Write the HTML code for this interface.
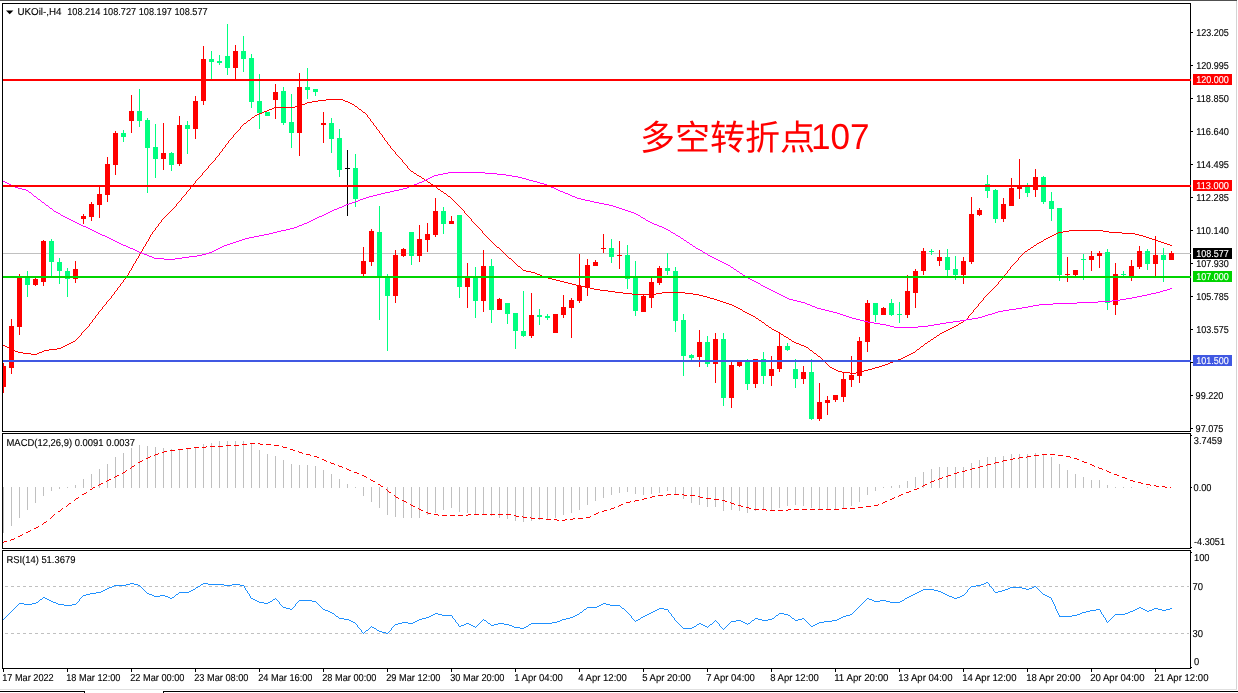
<!DOCTYPE html><html><head><meta charset="utf-8"><title>UKOil H4</title><style>html,body{margin:0;padding:0;background:#fff;overflow:hidden}body{width:1238px;height:693px;font-family:"Liberation Sans",sans-serif}</style></head><body><svg width="1238" height="693" viewBox="0 0 1238 693" style="display:block;will-change:transform">
<rect width="1238" height="693" fill="#fff"/>
<g shape-rendering="crispEdges">
<rect x="0" y="0" width="1237" height="1" fill="#505050"/>
<rect x="1236" y="1" width="1" height="689" fill="#d4d4d4"/>
<rect x="0" y="689" width="1237" height="1" fill="#e0e0e0"/>
<rect x="0" y="691" width="85" height="1" fill="#000"/><rect x="84" y="691" width="1" height="2" fill="#000"/>
<rect x="163" y="691" width="1075" height="1" fill="#000"/><rect x="163" y="691" width="1" height="2" fill="#000"/>
<rect x="3" y="253" width="1187" height="1" fill="#c0c0c0"/>
<line x1="5" y1="586.5" x2="1189" y2="586.5" stroke="#c0c0c0" stroke-width="1" stroke-dasharray="3,3"/>
<line x1="5" y1="633.5" x2="1189" y2="633.5" stroke="#c0c0c0" stroke-width="1" stroke-dasharray="3,3"/>
<rect x="3" y="487" width="1" height="46" fill="#c0c0c0"/>
<rect x="11" y="487" width="1" height="39" fill="#c0c0c0"/>
<rect x="19" y="487" width="1" height="31" fill="#c0c0c0"/>
<rect x="27" y="487" width="1" height="23" fill="#c0c0c0"/>
<rect x="35" y="487" width="1" height="16" fill="#c0c0c0"/>
<rect x="43" y="487" width="1" height="9" fill="#c0c0c0"/>
<rect x="51" y="487" width="1" height="4" fill="#c0c0c0"/>
<rect x="59" y="487" width="1" height="2" fill="#c0c0c0"/>
<rect x="67" y="487" width="1" height="1" fill="#c0c0c0"/>
<rect x="75" y="485" width="1" height="3" fill="#c0c0c0"/>
<rect x="83" y="479" width="1" height="9" fill="#c0c0c0"/>
<rect x="91" y="474" width="1" height="14" fill="#c0c0c0"/>
<rect x="99" y="469" width="1" height="19" fill="#c0c0c0"/>
<rect x="107" y="464" width="1" height="24" fill="#c0c0c0"/>
<rect x="115" y="457" width="1" height="31" fill="#c0c0c0"/>
<rect x="123" y="453" width="1" height="35" fill="#c0c0c0"/>
<rect x="131" y="448" width="1" height="40" fill="#c0c0c0"/>
<rect x="139" y="445" width="1" height="43" fill="#c0c0c0"/>
<rect x="147" y="446" width="1" height="42" fill="#c0c0c0"/>
<rect x="155" y="447" width="1" height="41" fill="#c0c0c0"/>
<rect x="163" y="448" width="1" height="40" fill="#c0c0c0"/>
<rect x="171" y="449" width="1" height="39" fill="#c0c0c0"/>
<rect x="179" y="449" width="1" height="39" fill="#c0c0c0"/>
<rect x="187" y="449" width="1" height="39" fill="#c0c0c0"/>
<rect x="195" y="447" width="1" height="41" fill="#c0c0c0"/>
<rect x="203" y="444" width="1" height="44" fill="#c0c0c0"/>
<rect x="211" y="443" width="1" height="45" fill="#c0c0c0"/>
<rect x="219" y="441" width="1" height="47" fill="#c0c0c0"/>
<rect x="227" y="441" width="1" height="47" fill="#c0c0c0"/>
<rect x="235" y="441" width="1" height="47" fill="#c0c0c0"/>
<rect x="243" y="441" width="1" height="47" fill="#c0c0c0"/>
<rect x="251" y="444" width="1" height="44" fill="#c0c0c0"/>
<rect x="259" y="450" width="1" height="38" fill="#c0c0c0"/>
<rect x="267" y="454" width="1" height="34" fill="#c0c0c0"/>
<rect x="275" y="456" width="1" height="32" fill="#c0c0c0"/>
<rect x="283" y="460" width="1" height="28" fill="#c0c0c0"/>
<rect x="291" y="464" width="1" height="24" fill="#c0c0c0"/>
<rect x="299" y="465" width="1" height="23" fill="#c0c0c0"/>
<rect x="307" y="465" width="1" height="23" fill="#c0c0c0"/>
<rect x="315" y="466" width="1" height="22" fill="#c0c0c0"/>
<rect x="323" y="470" width="1" height="18" fill="#c0c0c0"/>
<rect x="331" y="474" width="1" height="14" fill="#c0c0c0"/>
<rect x="339" y="479" width="1" height="9" fill="#c0c0c0"/>
<rect x="347" y="484" width="1" height="4" fill="#c0c0c0"/>
<rect x="355" y="487" width="1" height="1" fill="#c0c0c0"/>
<rect x="363" y="487" width="1" height="9" fill="#c0c0c0"/>
<rect x="371" y="487" width="1" height="15" fill="#c0c0c0"/>
<rect x="379" y="487" width="1" height="21" fill="#c0c0c0"/>
<rect x="387" y="487" width="1" height="28" fill="#c0c0c0"/>
<rect x="395" y="487" width="1" height="30" fill="#c0c0c0"/>
<rect x="403" y="487" width="1" height="31" fill="#c0c0c0"/>
<rect x="411" y="487" width="1" height="31" fill="#c0c0c0"/>
<rect x="419" y="487" width="1" height="31" fill="#c0c0c0"/>
<rect x="427" y="487" width="1" height="28" fill="#c0c0c0"/>
<rect x="435" y="487" width="1" height="26" fill="#c0c0c0"/>
<rect x="443" y="487" width="1" height="23" fill="#c0c0c0"/>
<rect x="451" y="487" width="1" height="21" fill="#c0c0c0"/>
<rect x="459" y="487" width="1" height="25" fill="#c0c0c0"/>
<rect x="467" y="487" width="1" height="26" fill="#c0c0c0"/>
<rect x="475" y="487" width="1" height="27" fill="#c0c0c0"/>
<rect x="483" y="487" width="1" height="28" fill="#c0c0c0"/>
<rect x="491" y="487" width="1" height="29" fill="#c0c0c0"/>
<rect x="499" y="487" width="1" height="31" fill="#c0c0c0"/>
<rect x="507" y="487" width="1" height="32" fill="#c0c0c0"/>
<rect x="515" y="487" width="1" height="34" fill="#c0c0c0"/>
<rect x="523" y="487" width="1" height="35" fill="#c0c0c0"/>
<rect x="531" y="487" width="1" height="34" fill="#c0c0c0"/>
<rect x="539" y="487" width="1" height="33" fill="#c0c0c0"/>
<rect x="547" y="487" width="1" height="32" fill="#c0c0c0"/>
<rect x="555" y="487" width="1" height="31" fill="#c0c0c0"/>
<rect x="563" y="487" width="1" height="28" fill="#c0c0c0"/>
<rect x="571" y="487" width="1" height="26" fill="#c0c0c0"/>
<rect x="579" y="487" width="1" height="23" fill="#c0c0c0"/>
<rect x="587" y="487" width="1" height="18" fill="#c0c0c0"/>
<rect x="595" y="487" width="1" height="14" fill="#c0c0c0"/>
<rect x="603" y="487" width="1" height="11" fill="#c0c0c0"/>
<rect x="611" y="487" width="1" height="8" fill="#c0c0c0"/>
<rect x="619" y="487" width="1" height="6" fill="#c0c0c0"/>
<rect x="627" y="487" width="1" height="5" fill="#c0c0c0"/>
<rect x="635" y="487" width="1" height="7" fill="#c0c0c0"/>
<rect x="643" y="487" width="1" height="8" fill="#c0c0c0"/>
<rect x="651" y="487" width="1" height="7" fill="#c0c0c0"/>
<rect x="659" y="487" width="1" height="6" fill="#c0c0c0"/>
<rect x="667" y="487" width="1" height="4" fill="#c0c0c0"/>
<rect x="675" y="487" width="1" height="8" fill="#c0c0c0"/>
<rect x="683" y="487" width="1" height="12" fill="#c0c0c0"/>
<rect x="691" y="487" width="1" height="16" fill="#c0c0c0"/>
<rect x="699" y="487" width="1" height="18" fill="#c0c0c0"/>
<rect x="707" y="487" width="1" height="20" fill="#c0c0c0"/>
<rect x="715" y="487" width="1" height="20" fill="#c0c0c0"/>
<rect x="723" y="487" width="1" height="24" fill="#c0c0c0"/>
<rect x="731" y="487" width="1" height="23" fill="#c0c0c0"/>
<rect x="739" y="487" width="1" height="24" fill="#c0c0c0"/>
<rect x="747" y="487" width="1" height="26" fill="#c0c0c0"/>
<rect x="755" y="487" width="1" height="24" fill="#c0c0c0"/>
<rect x="763" y="487" width="1" height="23" fill="#c0c0c0"/>
<rect x="771" y="487" width="1" height="23" fill="#c0c0c0"/>
<rect x="779" y="487" width="1" height="21" fill="#c0c0c0"/>
<rect x="787" y="487" width="1" height="19" fill="#c0c0c0"/>
<rect x="795" y="487" width="1" height="18" fill="#c0c0c0"/>
<rect x="803" y="487" width="1" height="19" fill="#c0c0c0"/>
<rect x="811" y="487" width="1" height="21" fill="#c0c0c0"/>
<rect x="819" y="487" width="1" height="22" fill="#c0c0c0"/>
<rect x="827" y="487" width="1" height="22" fill="#c0c0c0"/>
<rect x="835" y="487" width="1" height="22" fill="#c0c0c0"/>
<rect x="843" y="487" width="1" height="21" fill="#c0c0c0"/>
<rect x="851" y="487" width="1" height="19" fill="#c0c0c0"/>
<rect x="859" y="487" width="1" height="15" fill="#c0c0c0"/>
<rect x="867" y="487" width="1" height="8" fill="#c0c0c0"/>
<rect x="875" y="487" width="1" height="4" fill="#c0c0c0"/>
<rect x="883" y="487" width="1" height="1" fill="#c0c0c0"/>
<rect x="891" y="486" width="1" height="2" fill="#c0c0c0"/>
<rect x="899" y="485" width="1" height="3" fill="#c0c0c0"/>
<rect x="907" y="481" width="1" height="7" fill="#c0c0c0"/>
<rect x="915" y="477" width="1" height="11" fill="#c0c0c0"/>
<rect x="923" y="472" width="1" height="16" fill="#c0c0c0"/>
<rect x="931" y="469" width="1" height="19" fill="#c0c0c0"/>
<rect x="939" y="467" width="1" height="21" fill="#c0c0c0"/>
<rect x="947" y="467" width="1" height="21" fill="#c0c0c0"/>
<rect x="955" y="467" width="1" height="21" fill="#c0c0c0"/>
<rect x="963" y="467" width="1" height="21" fill="#c0c0c0"/>
<rect x="971" y="463" width="1" height="25" fill="#c0c0c0"/>
<rect x="979" y="460" width="1" height="28" fill="#c0c0c0"/>
<rect x="987" y="457" width="1" height="31" fill="#c0c0c0"/>
<rect x="995" y="457" width="1" height="31" fill="#c0c0c0"/>
<rect x="1003" y="456" width="1" height="32" fill="#c0c0c0"/>
<rect x="1011" y="454" width="1" height="34" fill="#c0c0c0"/>
<rect x="1019" y="454" width="1" height="34" fill="#c0c0c0"/>
<rect x="1027" y="454" width="1" height="34" fill="#c0c0c0"/>
<rect x="1035" y="453" width="1" height="35" fill="#c0c0c0"/>
<rect x="1043" y="454" width="1" height="34" fill="#c0c0c0"/>
<rect x="1051" y="457" width="1" height="31" fill="#c0c0c0"/>
<rect x="1059" y="464" width="1" height="24" fill="#c0c0c0"/>
<rect x="1067" y="470" width="1" height="18" fill="#c0c0c0"/>
<rect x="1075" y="474" width="1" height="14" fill="#c0c0c0"/>
<rect x="1083" y="477" width="1" height="11" fill="#c0c0c0"/>
<rect x="1091" y="480" width="1" height="8" fill="#c0c0c0"/>
<rect x="1099" y="480" width="1" height="8" fill="#c0c0c0"/>
<rect x="1107" y="485" width="1" height="3" fill="#c0c0c0"/>
<rect x="1115" y="487" width="1" height="1" fill="#c0c0c0"/>
<rect x="1123" y="487" width="1" height="1" fill="#c0c0c0"/>
<rect x="1131" y="487" width="1" height="1" fill="#c0c0c0"/>
<rect x="1147" y="487" width="1" height="1" fill="#c0c0c0"/>
</g>
<g shape-rendering="crispEdges">
<rect x="3" y="363" width="1" height="30" fill="#ff0000"/>
<rect x="3" y="366" width="3" height="21" fill="#ff0000"/>
<rect x="11" y="319" width="1" height="55" fill="#ff0000"/>
<rect x="9" y="326" width="5" height="42" fill="#ff0000"/>
<rect x="19" y="274" width="1" height="61" fill="#ff0000"/>
<rect x="17" y="277" width="5" height="50" fill="#ff0000"/>
<rect x="27" y="271" width="1" height="26" fill="#00ff7f"/>
<rect x="25" y="278" width="5" height="7" fill="#00ff7f"/>
<rect x="35" y="278" width="1" height="8" fill="#ff0000"/>
<rect x="33" y="279" width="5" height="6" fill="#ff0000"/>
<rect x="43" y="240" width="1" height="46" fill="#ff0000"/>
<rect x="41" y="241" width="5" height="41" fill="#ff0000"/>
<rect x="51" y="239" width="1" height="37" fill="#00ff7f"/>
<rect x="49" y="241" width="5" height="21" fill="#00ff7f"/>
<rect x="59" y="258" width="1" height="26" fill="#00ff7f"/>
<rect x="57" y="262" width="5" height="9" fill="#00ff7f"/>
<rect x="67" y="268" width="1" height="29" fill="#00ff7f"/>
<rect x="65" y="271" width="5" height="8" fill="#00ff7f"/>
<rect x="75" y="261" width="1" height="22" fill="#ff0000"/>
<rect x="73" y="269" width="5" height="10" fill="#ff0000"/>
<rect x="83" y="214" width="1" height="10" fill="#ff0000"/>
<rect x="81" y="216" width="5" height="3" fill="#ff0000"/>
<rect x="91" y="202" width="1" height="19" fill="#ff0000"/>
<rect x="89" y="204" width="5" height="13" fill="#ff0000"/>
<rect x="99" y="187" width="1" height="31" fill="#ff0000"/>
<rect x="97" y="194" width="5" height="11" fill="#ff0000"/>
<rect x="107" y="157" width="1" height="45" fill="#ff0000"/>
<rect x="105" y="164" width="5" height="31" fill="#ff0000"/>
<rect x="115" y="131" width="1" height="44" fill="#ff0000"/>
<rect x="113" y="133" width="5" height="32" fill="#ff0000"/>
<rect x="123" y="130" width="1" height="12" fill="#00ff7f"/>
<rect x="121" y="133" width="5" height="4" fill="#00ff7f"/>
<rect x="131" y="95" width="1" height="38" fill="#ff0000"/>
<rect x="129" y="111" width="5" height="10" fill="#ff0000"/>
<rect x="139" y="89" width="1" height="38" fill="#00ff7f"/>
<rect x="137" y="111" width="5" height="10" fill="#00ff7f"/>
<rect x="147" y="118" width="1" height="75" fill="#00ff7f"/>
<rect x="145" y="120" width="5" height="28" fill="#00ff7f"/>
<rect x="155" y="124" width="1" height="54" fill="#00ff7f"/>
<rect x="153" y="147" width="5" height="12" fill="#00ff7f"/>
<rect x="163" y="123" width="1" height="47" fill="#ff0000"/>
<rect x="161" y="153" width="5" height="6" fill="#ff0000"/>
<rect x="171" y="152" width="1" height="19" fill="#00ff7f"/>
<rect x="169" y="153" width="5" height="12" fill="#00ff7f"/>
<rect x="179" y="116" width="1" height="50" fill="#ff0000"/>
<rect x="177" y="125" width="5" height="39" fill="#ff0000"/>
<rect x="187" y="121" width="1" height="33" fill="#00ff7f"/>
<rect x="185" y="125" width="5" height="4" fill="#00ff7f"/>
<rect x="195" y="96" width="1" height="43" fill="#ff0000"/>
<rect x="193" y="101" width="5" height="28" fill="#ff0000"/>
<rect x="203" y="46" width="1" height="59" fill="#ff0000"/>
<rect x="201" y="59" width="5" height="42" fill="#ff0000"/>
<rect x="211" y="51" width="1" height="28" fill="#00ff7f"/>
<rect x="209" y="59" width="5" height="3" fill="#00ff7f"/>
<rect x="219" y="55" width="1" height="10" fill="#00ff7f"/>
<rect x="217" y="61" width="5" height="2" fill="#00ff7f"/>
<rect x="227" y="24" width="1" height="51" fill="#00ff7f"/>
<rect x="225" y="56" width="5" height="12" fill="#00ff7f"/>
<rect x="235" y="45" width="1" height="34" fill="#ff0000"/>
<rect x="233" y="51" width="5" height="17" fill="#ff0000"/>
<rect x="243" y="36" width="1" height="36" fill="#00ff7f"/>
<rect x="241" y="51" width="5" height="8" fill="#00ff7f"/>
<rect x="251" y="54" width="1" height="54" fill="#00ff7f"/>
<rect x="249" y="58" width="5" height="44" fill="#00ff7f"/>
<rect x="259" y="74" width="1" height="55" fill="#00ff7f"/>
<rect x="257" y="101" width="5" height="12" fill="#00ff7f"/>
<rect x="267" y="112" width="1" height="4" fill="#00ff7f"/>
<rect x="265" y="112" width="5" height="4" fill="#00ff7f"/>
<rect x="275" y="84" width="1" height="35" fill="#ff0000"/>
<rect x="273" y="92" width="5" height="8" fill="#ff0000"/>
<rect x="283" y="87" width="1" height="38" fill="#00ff7f"/>
<rect x="281" y="91" width="5" height="32" fill="#00ff7f"/>
<rect x="291" y="94" width="1" height="54" fill="#00ff7f"/>
<rect x="289" y="122" width="5" height="11" fill="#00ff7f"/>
<rect x="299" y="73" width="1" height="83" fill="#ff0000"/>
<rect x="297" y="87" width="5" height="46" fill="#ff0000"/>
<rect x="307" y="68" width="1" height="31" fill="#00ff7f"/>
<rect x="305" y="87" width="5" height="3" fill="#00ff7f"/>
<rect x="315" y="89" width="1" height="7" fill="#00ff7f"/>
<rect x="313" y="89" width="5" height="3" fill="#00ff7f"/>
<rect x="323" y="112" width="1" height="31" fill="#ff0000"/>
<rect x="321" y="123" width="5" height="2" fill="#ff0000"/>
<rect x="331" y="118" width="1" height="35" fill="#00ff7f"/>
<rect x="329" y="123" width="5" height="16" fill="#00ff7f"/>
<rect x="339" y="129" width="1" height="48" fill="#00ff7f"/>
<rect x="337" y="138" width="5" height="32" fill="#00ff7f"/>
<rect x="347" y="150" width="1" height="66" fill="#000"/>
<rect x="345" y="168" width="5" height="1" fill="#000"/>
<rect x="355" y="154" width="1" height="53" fill="#00ff7f"/>
<rect x="353" y="168" width="5" height="31" fill="#00ff7f"/>
<rect x="363" y="247" width="1" height="29" fill="#ff0000"/>
<rect x="361" y="261" width="5" height="13" fill="#ff0000"/>
<rect x="371" y="229" width="1" height="37" fill="#ff0000"/>
<rect x="369" y="231" width="5" height="31" fill="#ff0000"/>
<rect x="379" y="206" width="1" height="114" fill="#00ff7f"/>
<rect x="377" y="232" width="5" height="45" fill="#00ff7f"/>
<rect x="387" y="274" width="1" height="77" fill="#00ff7f"/>
<rect x="385" y="277" width="5" height="19" fill="#00ff7f"/>
<rect x="395" y="250" width="1" height="53" fill="#ff0000"/>
<rect x="393" y="255" width="5" height="41" fill="#ff0000"/>
<rect x="403" y="248" width="1" height="9" fill="#ff0000"/>
<rect x="401" y="249" width="5" height="7" fill="#ff0000"/>
<rect x="411" y="232" width="1" height="33" fill="#00ff7f"/>
<rect x="409" y="232" width="5" height="24" fill="#00ff7f"/>
<rect x="419" y="225" width="1" height="37" fill="#ff0000"/>
<rect x="417" y="239" width="5" height="17" fill="#ff0000"/>
<rect x="427" y="223" width="1" height="29" fill="#ff0000"/>
<rect x="425" y="234" width="5" height="6" fill="#ff0000"/>
<rect x="435" y="198" width="1" height="39" fill="#ff0000"/>
<rect x="433" y="211" width="5" height="24" fill="#ff0000"/>
<rect x="443" y="207" width="1" height="27" fill="#00ff7f"/>
<rect x="441" y="211" width="5" height="13" fill="#00ff7f"/>
<rect x="451" y="216" width="1" height="8" fill="#ff0000"/>
<rect x="449" y="221" width="5" height="3" fill="#ff0000"/>
<rect x="459" y="215" width="1" height="83" fill="#00ff7f"/>
<rect x="457" y="215" width="5" height="72" fill="#00ff7f"/>
<rect x="467" y="263" width="1" height="45" fill="#ff0000"/>
<rect x="465" y="278" width="5" height="9" fill="#ff0000"/>
<rect x="475" y="267" width="1" height="51" fill="#00ff7f"/>
<rect x="473" y="278" width="5" height="23" fill="#00ff7f"/>
<rect x="483" y="250" width="1" height="62" fill="#ff0000"/>
<rect x="481" y="266" width="5" height="35" fill="#ff0000"/>
<rect x="491" y="259" width="1" height="64" fill="#00ff7f"/>
<rect x="489" y="266" width="5" height="44" fill="#00ff7f"/>
<rect x="499" y="298" width="1" height="12" fill="#ff0000"/>
<rect x="497" y="299" width="5" height="11" fill="#ff0000"/>
<rect x="507" y="303" width="1" height="21" fill="#00ff7f"/>
<rect x="505" y="303" width="5" height="11" fill="#00ff7f"/>
<rect x="515" y="313" width="1" height="36" fill="#00ff7f"/>
<rect x="513" y="313" width="5" height="18" fill="#00ff7f"/>
<rect x="523" y="291" width="1" height="46" fill="#00ff7f"/>
<rect x="521" y="331" width="5" height="5" fill="#00ff7f"/>
<rect x="531" y="293" width="1" height="45" fill="#ff0000"/>
<rect x="529" y="315" width="5" height="21" fill="#ff0000"/>
<rect x="539" y="309" width="1" height="16" fill="#00ff7f"/>
<rect x="537" y="315" width="5" height="2" fill="#00ff7f"/>
<rect x="547" y="314" width="1" height="6" fill="#00ff7f"/>
<rect x="545" y="316" width="5" height="2" fill="#00ff7f"/>
<rect x="555" y="314" width="1" height="19" fill="#ff0000"/>
<rect x="553" y="314" width="5" height="19" fill="#ff0000"/>
<rect x="563" y="295" width="1" height="23" fill="#ff0000"/>
<rect x="561" y="307" width="5" height="8" fill="#ff0000"/>
<rect x="571" y="298" width="1" height="40" fill="#ff0000"/>
<rect x="569" y="300" width="5" height="8" fill="#ff0000"/>
<rect x="579" y="254" width="1" height="49" fill="#ff0000"/>
<rect x="577" y="286" width="5" height="15" fill="#ff0000"/>
<rect x="587" y="259" width="1" height="37" fill="#ff0000"/>
<rect x="585" y="265" width="5" height="22" fill="#ff0000"/>
<rect x="595" y="260" width="1" height="6" fill="#ff0000"/>
<rect x="593" y="262" width="5" height="4" fill="#ff0000"/>
<rect x="603" y="234" width="1" height="19" fill="#ff0000"/>
<rect x="601" y="248" width="5" height="1" fill="#ff0000"/>
<rect x="611" y="239" width="1" height="24" fill="#00ff7f"/>
<rect x="609" y="248" width="5" height="9" fill="#00ff7f"/>
<rect x="619" y="241" width="1" height="28" fill="#ff0000"/>
<rect x="617" y="255" width="5" height="1" fill="#ff0000"/>
<rect x="627" y="245" width="1" height="44" fill="#00ff7f"/>
<rect x="625" y="255" width="5" height="24" fill="#00ff7f"/>
<rect x="635" y="261" width="1" height="55" fill="#00ff7f"/>
<rect x="633" y="277" width="5" height="34" fill="#00ff7f"/>
<rect x="643" y="295" width="1" height="17" fill="#ff0000"/>
<rect x="641" y="296" width="5" height="16" fill="#ff0000"/>
<rect x="651" y="278" width="1" height="30" fill="#ff0000"/>
<rect x="649" y="282" width="5" height="16" fill="#ff0000"/>
<rect x="659" y="266" width="1" height="19" fill="#ff0000"/>
<rect x="657" y="268" width="5" height="15" fill="#ff0000"/>
<rect x="667" y="253" width="1" height="22" fill="#00ff7f"/>
<rect x="665" y="268" width="5" height="3" fill="#00ff7f"/>
<rect x="675" y="267" width="1" height="65" fill="#00ff7f"/>
<rect x="673" y="271" width="5" height="50" fill="#00ff7f"/>
<rect x="683" y="314" width="1" height="62" fill="#00ff7f"/>
<rect x="681" y="320" width="5" height="36" fill="#00ff7f"/>
<rect x="691" y="354" width="1" height="6" fill="#00ff7f"/>
<rect x="689" y="355" width="5" height="3" fill="#00ff7f"/>
<rect x="699" y="330" width="1" height="37" fill="#ff0000"/>
<rect x="697" y="342" width="5" height="15" fill="#ff0000"/>
<rect x="707" y="336" width="1" height="31" fill="#00ff7f"/>
<rect x="705" y="342" width="5" height="22" fill="#00ff7f"/>
<rect x="715" y="333" width="1" height="50" fill="#ff0000"/>
<rect x="713" y="339" width="5" height="25" fill="#ff0000"/>
<rect x="723" y="333" width="1" height="73" fill="#00ff7f"/>
<rect x="721" y="339" width="5" height="59" fill="#00ff7f"/>
<rect x="731" y="362" width="1" height="46" fill="#ff0000"/>
<rect x="729" y="365" width="5" height="33" fill="#ff0000"/>
<rect x="739" y="361" width="1" height="6" fill="#ff0000"/>
<rect x="737" y="362" width="5" height="4" fill="#ff0000"/>
<rect x="747" y="359" width="1" height="31" fill="#00ff7f"/>
<rect x="745" y="361" width="5" height="23" fill="#00ff7f"/>
<rect x="755" y="359" width="1" height="29" fill="#ff0000"/>
<rect x="753" y="359" width="5" height="25" fill="#ff0000"/>
<rect x="763" y="352" width="1" height="32" fill="#00ff7f"/>
<rect x="761" y="359" width="5" height="17" fill="#00ff7f"/>
<rect x="771" y="356" width="1" height="30" fill="#ff0000"/>
<rect x="769" y="369" width="5" height="7" fill="#ff0000"/>
<rect x="779" y="333" width="1" height="39" fill="#ff0000"/>
<rect x="777" y="346" width="5" height="23" fill="#ff0000"/>
<rect x="787" y="343" width="1" height="8" fill="#00ff7f"/>
<rect x="785" y="346" width="5" height="4" fill="#00ff7f"/>
<rect x="795" y="359" width="1" height="29" fill="#00ff7f"/>
<rect x="793" y="369" width="5" height="10" fill="#00ff7f"/>
<rect x="803" y="366" width="1" height="18" fill="#ff0000"/>
<rect x="801" y="372" width="5" height="7" fill="#ff0000"/>
<rect x="811" y="359" width="1" height="61" fill="#00ff7f"/>
<rect x="809" y="372" width="5" height="47" fill="#00ff7f"/>
<rect x="819" y="383" width="1" height="38" fill="#ff0000"/>
<rect x="817" y="402" width="5" height="17" fill="#ff0000"/>
<rect x="827" y="396" width="1" height="19" fill="#ff0000"/>
<rect x="825" y="400" width="5" height="3" fill="#ff0000"/>
<rect x="835" y="395" width="1" height="7" fill="#ff0000"/>
<rect x="833" y="395" width="5" height="5" fill="#ff0000"/>
<rect x="843" y="373" width="1" height="29" fill="#ff0000"/>
<rect x="841" y="379" width="5" height="18" fill="#ff0000"/>
<rect x="851" y="356" width="1" height="31" fill="#ff0000"/>
<rect x="849" y="375" width="5" height="5" fill="#ff0000"/>
<rect x="859" y="337" width="1" height="46" fill="#ff0000"/>
<rect x="857" y="341" width="5" height="35" fill="#ff0000"/>
<rect x="867" y="300" width="1" height="52" fill="#ff0000"/>
<rect x="865" y="303" width="5" height="39" fill="#ff0000"/>
<rect x="875" y="303" width="1" height="19" fill="#00ff7f"/>
<rect x="873" y="303" width="5" height="12" fill="#00ff7f"/>
<rect x="883" y="307" width="1" height="8" fill="#ff0000"/>
<rect x="881" y="308" width="5" height="7" fill="#ff0000"/>
<rect x="891" y="299" width="1" height="17" fill="#00ff7f"/>
<rect x="889" y="303" width="5" height="12" fill="#00ff7f"/>
<rect x="899" y="302" width="1" height="21" fill="#00ff7f"/>
<rect x="897" y="314" width="5" height="1" fill="#00ff7f"/>
<rect x="907" y="275" width="1" height="43" fill="#ff0000"/>
<rect x="905" y="291" width="5" height="24" fill="#ff0000"/>
<rect x="915" y="269" width="1" height="39" fill="#ff0000"/>
<rect x="913" y="271" width="5" height="22" fill="#ff0000"/>
<rect x="923" y="248" width="1" height="27" fill="#ff0000"/>
<rect x="921" y="251" width="5" height="20" fill="#ff0000"/>
<rect x="931" y="249" width="1" height="6" fill="#00ff7f"/>
<rect x="929" y="251" width="5" height="1" fill="#00ff7f"/>
<rect x="939" y="250" width="1" height="16" fill="#ff0000"/>
<rect x="937" y="257" width="5" height="4" fill="#ff0000"/>
<rect x="947" y="249" width="1" height="27" fill="#00ff7f"/>
<rect x="945" y="257" width="5" height="13" fill="#00ff7f"/>
<rect x="955" y="256" width="1" height="24" fill="#00ff7f"/>
<rect x="953" y="269" width="5" height="6" fill="#00ff7f"/>
<rect x="963" y="257" width="1" height="27" fill="#ff0000"/>
<rect x="961" y="261" width="5" height="14" fill="#ff0000"/>
<rect x="971" y="197" width="1" height="67" fill="#ff0000"/>
<rect x="969" y="214" width="5" height="48" fill="#ff0000"/>
<rect x="979" y="208" width="1" height="8" fill="#ff0000"/>
<rect x="977" y="210" width="5" height="5" fill="#ff0000"/>
<rect x="987" y="175" width="1" height="23" fill="#00ff7f"/>
<rect x="985" y="184" width="5" height="7" fill="#00ff7f"/>
<rect x="995" y="189" width="1" height="34" fill="#00ff7f"/>
<rect x="993" y="190" width="5" height="29" fill="#00ff7f"/>
<rect x="1003" y="198" width="1" height="24" fill="#ff0000"/>
<rect x="1001" y="204" width="5" height="15" fill="#ff0000"/>
<rect x="1011" y="178" width="1" height="28" fill="#ff0000"/>
<rect x="1009" y="188" width="5" height="18" fill="#ff0000"/>
<rect x="1019" y="159" width="1" height="40" fill="#ff0000"/>
<rect x="1017" y="185" width="5" height="4" fill="#ff0000"/>
<rect x="1027" y="183" width="1" height="14" fill="#00ff7f"/>
<rect x="1025" y="187" width="5" height="6" fill="#00ff7f"/>
<rect x="1035" y="169" width="1" height="28" fill="#ff0000"/>
<rect x="1033" y="177" width="5" height="13" fill="#ff0000"/>
<rect x="1043" y="176" width="1" height="28" fill="#00ff7f"/>
<rect x="1041" y="177" width="5" height="25" fill="#00ff7f"/>
<rect x="1051" y="192" width="1" height="29" fill="#00ff7f"/>
<rect x="1049" y="201" width="5" height="8" fill="#00ff7f"/>
<rect x="1059" y="208" width="1" height="73" fill="#00ff7f"/>
<rect x="1057" y="208" width="5" height="67" fill="#00ff7f"/>
<rect x="1067" y="257" width="1" height="25" fill="#ff0000"/>
<rect x="1065" y="274" width="5" height="1" fill="#ff0000"/>
<rect x="1075" y="270" width="1" height="7" fill="#ff0000"/>
<rect x="1073" y="270" width="5" height="5" fill="#ff0000"/>
<rect x="1083" y="254" width="1" height="26" fill="#00ff7f"/>
<rect x="1081" y="259" width="5" height="1" fill="#00ff7f"/>
<rect x="1091" y="251" width="1" height="20" fill="#ff0000"/>
<rect x="1089" y="256" width="5" height="4" fill="#ff0000"/>
<rect x="1099" y="251" width="1" height="17" fill="#ff0000"/>
<rect x="1097" y="253" width="5" height="3" fill="#ff0000"/>
<rect x="1107" y="249" width="1" height="61" fill="#00ff7f"/>
<rect x="1105" y="252" width="5" height="51" fill="#00ff7f"/>
<rect x="1115" y="263" width="1" height="52" fill="#ff0000"/>
<rect x="1113" y="274" width="5" height="31" fill="#ff0000"/>
<rect x="1123" y="271" width="1" height="5" fill="#00ff7f"/>
<rect x="1121" y="274" width="5" height="1" fill="#00ff7f"/>
<rect x="1131" y="260" width="1" height="21" fill="#ff0000"/>
<rect x="1129" y="266" width="5" height="10" fill="#ff0000"/>
<rect x="1139" y="246" width="1" height="23" fill="#ff0000"/>
<rect x="1137" y="251" width="5" height="16" fill="#ff0000"/>
<rect x="1147" y="249" width="1" height="21" fill="#00ff7f"/>
<rect x="1145" y="251" width="5" height="13" fill="#00ff7f"/>
<rect x="1155" y="236" width="1" height="40" fill="#ff0000"/>
<rect x="1153" y="255" width="5" height="9" fill="#ff0000"/>
<rect x="1163" y="248" width="1" height="34" fill="#00ff7f"/>
<rect x="1161" y="255" width="5" height="5" fill="#00ff7f"/>
<rect x="1171" y="251" width="1" height="9" fill="#ff0000"/>
<rect x="1169" y="253" width="5" height="7" fill="#ff0000"/>
</g>
<path shape-rendering="crispEdges" fill="none" stroke="#ff0000" stroke-width="1" d="M326 99.5h17M318 100.5h8M343 100.5h2M312 101.5h6M345 101.5h3M307 102.5h5M348 102.5h2M305 103.5h2M350 103.5h2M302 104.5h3M352 104.5h2M300 105.5h2M354 105.5h1M295 106.5h5M355 106.5h2M274 107.5h21M357 107.5h1M272 108.5h2M358 108.5h1M269 109.5h3M359 109.5h2M267 110.5h2M361 110.5h1M264 111.5h3M362 111.5h1M262 112.5h2M363 112.5h2M259 113.5h3M365 113.5h1M257 114.5h2M366 114.5h1M255 115.5h2M367.5 115v2M254 116.5h1M252 117.5h2M368 117.5h1M251 118.5h1M369 118.5h1M250 119.5h1M370.5 119v2M248 120.5h2M247 121.5h1M371 121.5h1M246 122.5h1M372 122.5h1M244 123.5h2M373.5 123v2M243 124.5h1M242 125.5h1M374 125.5h1M241 126.5h1M375 126.5h1M240.5 127v2M376.5 127v2M239 129.5h1M377 129.5h1M238 130.5h1M378 130.5h1M237 131.5h1M379.5 131v2M236 132.5h1M235 133.5h1M380 133.5h1M234 134.5h1M381 134.5h1M233.5 135v2M382.5 135v2M232 137.5h1M383 137.5h1M231 138.5h1M384.5 138v2M230 139.5h1M229 140.5h1M385 140.5h1M228.5 141v2M386 141.5h1M387.5 142v2M227 143.5h1M226 144.5h1M388 144.5h1M225.5 145v2M389 145.5h1M390.5 146v2M224 147.5h1M223 148.5h1M391 148.5h1M222.5 149v2M392 149.5h1M393 150.5h1M221 151.5h1M394 151.5h1M220 152.5h1M395.5 152v2M219.5 153v2M396 154.5h1M218 155.5h1M397 155.5h1M217 156.5h1M398 156.5h1M216 157.5h1M399 157.5h1M215.5 158v2M400 158.5h1M401 159.5h1M214 160.5h1M402.5 160v2M213 161.5h1M212 162.5h1M403 162.5h1M211 163.5h1M404 163.5h1M210 164.5h1M405 164.5h1M209 165.5h1M406 165.5h1M208.5 166v2M407.5 166v2M207 168.5h1M408 168.5h1M206 169.5h1M409 169.5h1M205 170.5h1M410 170.5h1M204 171.5h1M411 171.5h2M203 172.5h1M413 172.5h1M202.5 173v2M414 173.5h2M416 174.5h1M201 175.5h1M417 175.5h2M200 176.5h1M419 176.5h2M199 177.5h1M421 177.5h1M198 178.5h1M422 178.5h2M197 179.5h1M424 179.5h1M196 180.5h1M425 180.5h2M195.5 181v2M427 181.5h1M428 182.5h2M194 183.5h1M430 183.5h1M193 184.5h1M431 184.5h2M192 185.5h1M433 185.5h1M191 186.5h1M434 186.5h2M190.5 187v2M436 187.5h1M437 188.5h1M189 189.5h1M438 189.5h2M188 190.5h1M440 190.5h1M187 191.5h1M441 191.5h2M186.5 192v2M443 192.5h1M444 193.5h2M185 194.5h1M446 194.5h1M184 195.5h1M447 195.5h1M183 196.5h1M448 196.5h2M182 197.5h1M450 197.5h1M181.5 198v2M451 198.5h1M452 199.5h1M180 200.5h1M453 200.5h1M179 201.5h1M454 201.5h1M178 202.5h1M455 202.5h1M177 203.5h1M456 203.5h1M176.5 204v2M457 204.5h1M458 205.5h1M175 206.5h1M459 206.5h1M174 207.5h1M460 207.5h1M173 208.5h1M461 208.5h1M172 209.5h1M462 209.5h1M171 210.5h1M463 210.5h1M170 211.5h1M464.5 211v2M169 212.5h1M168 213.5h1M465 213.5h1M167 214.5h1M466 214.5h1M166 215.5h1M467 215.5h1M165 216.5h1M468 216.5h1M164 217.5h1M469 217.5h1M163 218.5h1M470 218.5h1M162 219.5h1M471.5 219v2M161.5 220v2M472 221.5h1M160 222.5h1M473 222.5h1M159 223.5h1M474 223.5h1M158.5 224v2M475 224.5h1M476 225.5h1M157 226.5h1M477 226.5h1M156 227.5h1M478 227.5h1M155.5 228v2M479 228.5h1M480 229.5h1M154 230.5h1M481 230.5h1M1069 230.5h34M153 231.5h1M482.5 231v2M1063 231.5h6M1103 231.5h6M152.5 232v2M1058 232.5h5M1109 232.5h13M483 233.5h1M1056 233.5h2M1122 233.5h13M151 234.5h1M484 234.5h1M1054 234.5h2M1135 234.5h4M150.5 235v2M485 235.5h1M1052 235.5h2M1139 235.5h4M486 236.5h1M1050 236.5h2M1143 236.5h3M149.5 237v2M487 237.5h1M1048 237.5h2M1146 237.5h3M488 238.5h1M1046 238.5h2M1149 238.5h3M148.5 239v2M489 239.5h1M1044 239.5h2M1152 239.5h3M490 240.5h1M1043 240.5h1M1155 240.5h3M147 241.5h1M491 241.5h1M1041 241.5h2M1158 241.5h3M146.5 242v2M492 242.5h1M1039 242.5h2M1161 242.5h3M493 243.5h1M1037 243.5h2M1164 243.5h3M145.5 244v2M494 244.5h1M1036 244.5h1M1167 244.5h3M495 245.5h1M1034 245.5h2M1170 245.5h2M144 246.5h1M496 246.5h1M1033 246.5h1M143.5 247v2M497 247.5h2M1031 247.5h2M499 248.5h1M1030 248.5h1M142.5 249v2M500 249.5h1M1028 249.5h2M501 250.5h1M1027 250.5h1M141.5 251v2M502 251.5h1M1025 251.5h2M503 252.5h1M1024 252.5h1M140 253.5h1M504 253.5h1M1023 253.5h1M139.5 254v2M505 254.5h1M1022 254.5h1M506 255.5h1M1021 255.5h1M138.5 256v2M507 256.5h1M1020 256.5h1M508 257.5h1M1019 257.5h1M137 258.5h1M509 258.5h2M1018.5 258v2M136.5 259v2M511 259.5h1M512 260.5h1M1017 260.5h1M135.5 261v2M513 261.5h1M1016 261.5h1M514 262.5h1M1015 262.5h1M134 263.5h1M515 263.5h1M1014 263.5h1M133.5 264v2M516 264.5h1M1013 264.5h1M517 265.5h1M1012 265.5h1M132.5 266v2M518 266.5h2M1011 266.5h1M520 267.5h1M1010.5 267v2M131.5 268v2M521 268.5h1M522 269.5h1M1009 269.5h1M130 270.5h1M523 270.5h3M1008 270.5h1M129.5 271v2M526 271.5h5M1007.5 271v2M531 272.5h4M128.5 273v2M535 273.5h2M1006 273.5h1M537 274.5h3M1005 274.5h1M127 275.5h1M540 275.5h2M1004.5 275v2M126.5 276v2M542 276.5h2M544 277.5h4M1003 277.5h1M125 278.5h1M548 278.5h4M1002 278.5h1M124 279.5h1M552 279.5h4M1001 279.5h1M123.5 280v2M556 280.5h4M1000 280.5h1M560 281.5h4M999 281.5h1M122 282.5h1M564 282.5h4M998.5 282v2M121 283.5h1M568 283.5h4M120.5 284v2M572 284.5h4M997 284.5h1M576 285.5h5M996 285.5h1M119 286.5h1M581 286.5h4M995 286.5h1M118 287.5h1M585 287.5h5M994 287.5h1M117.5 288v2M590 288.5h4M993 288.5h1M594 289.5h6M992 289.5h1M116 290.5h1M600 290.5h8M991 290.5h1M115 291.5h1M608 291.5h7M990 291.5h1M114.5 292v2M615 292.5h8M662 292.5h23M989 292.5h1M623 293.5h9M656 293.5h6M685 293.5h8M988 293.5h1M113 294.5h1M632 294.5h24M693 294.5h6M987 294.5h1M112 295.5h1M699 295.5h4M986 295.5h1M111.5 296v2M703 296.5h4M985 296.5h1M707 297.5h3M984 297.5h1M110 298.5h1M710 298.5h4M983.5 298v2M109 299.5h1M714 299.5h3M108 300.5h1M717 300.5h3M982 300.5h1M107 301.5h1M720 301.5h3M981 301.5h1M106.5 302v2M723 302.5h3M980 302.5h1M726 303.5h3M979 303.5h1M105 304.5h1M729 304.5h3M978.5 304v2M104 305.5h1M732 305.5h2M103 306.5h1M734 306.5h2M977 306.5h1M102.5 307v2M736 307.5h2M976 307.5h1M738 308.5h2M975 308.5h1M101 309.5h1M740 309.5h2M974 309.5h1M100 310.5h1M742 310.5h1M973.5 310v2M99 311.5h1M743 311.5h2M98.5 312v2M745 312.5h2M972 312.5h1M747 313.5h2M971 313.5h1M97 314.5h1M749 314.5h2M970 314.5h1M96 315.5h1M751 315.5h2M969 315.5h1M95.5 316v2M753 316.5h2M968.5 316v2M755 317.5h1M94 318.5h1M756 318.5h2M967 318.5h1M93 319.5h1M758 319.5h1M966 319.5h1M92.5 320v2M759 320.5h2M964 320.5h2M761 321.5h1M963 321.5h1M91 322.5h1M762 322.5h2M961 322.5h2M90 323.5h1M764 323.5h1M959 323.5h2M89.5 324v2M765 324.5h1M958 324.5h1M766 325.5h2M956 325.5h2M88 326.5h1M768 326.5h1M954 326.5h2M87 327.5h1M769 327.5h2M952 327.5h2M86 328.5h1M771 328.5h1M950 328.5h2M85 329.5h1M772 329.5h2M948 329.5h2M84 330.5h1M774 330.5h2M946 330.5h2M83 331.5h1M776 331.5h2M944 331.5h2M82 332.5h1M778 332.5h2M942 332.5h2M81.5 333v2M780 333.5h1M940 333.5h2M781 334.5h2M939 334.5h1M80 335.5h1M783 335.5h1M937 335.5h2M79 336.5h1M784 336.5h2M936 336.5h1M78 337.5h1M786 337.5h2M934 337.5h2M77 338.5h1M788 338.5h1M933 338.5h1M76 339.5h1M789 339.5h2M931 339.5h2M75 340.5h1M791 340.5h1M930 340.5h1M73 341.5h2M792 341.5h2M928 341.5h2M71 342.5h2M794 342.5h2M927 342.5h1M69 343.5h2M796 343.5h3M925 343.5h2M2 344.5h1M67 344.5h2M799 344.5h2M924 344.5h1M3 345.5h2M65 345.5h2M801 345.5h3M923 345.5h1M5 346.5h2M63 346.5h2M804 346.5h2M921 346.5h2M7 347.5h2M61 347.5h2M806 347.5h2M920 347.5h1M9 348.5h2M57 348.5h4M808 348.5h1M919 348.5h1M11 349.5h2M49 349.5h8M809 349.5h1M917 349.5h2M13 350.5h2M44 350.5h5M810 350.5h2M916 350.5h1M15 351.5h3M42 351.5h2M812 351.5h1M915 351.5h1M18 352.5h5M39 352.5h3M813 352.5h1M913 352.5h2M23 353.5h8M37 353.5h2M814 353.5h2M911 353.5h2M31 354.5h6M816 354.5h1M909 354.5h2M817 355.5h1M907 355.5h2M818 356.5h2M905 356.5h2M820 357.5h1M903 357.5h2M821 358.5h1M901 358.5h2M822 359.5h1M898 359.5h3M823 360.5h1M896 360.5h2M824 361.5h1M893 361.5h3M825 362.5h1M890 362.5h3M826 363.5h1M888 363.5h2M827 364.5h1M885 364.5h3M828 365.5h1M882 365.5h3M829 366.5h1M879 366.5h3M830 367.5h2M875 367.5h4M832 368.5h2M872 368.5h3M834 369.5h2M868 369.5h4M836 370.5h2M864 370.5h4M838 371.5h4M860 371.5h4M842 372.5h8M856 372.5h4M850 373.5h6"/>
<path shape-rendering="crispEdges" fill="none" stroke="#ff00ff" stroke-width="1" d="M448 172.5h37M443 173.5h5M485 173.5h12M438 174.5h5M497 174.5h9M434 175.5h4M506 175.5h6M432 176.5h2M512 176.5h6M430 177.5h2M518 177.5h4M428 178.5h2M522 178.5h4M426 179.5h2M526 179.5h3M424 180.5h2M529 180.5h4M3 181.5h2M422 181.5h2M533 181.5h4M5 182.5h2M419 182.5h3M537 182.5h3M7 183.5h2M417 183.5h2M540 183.5h4M9 184.5h2M414 184.5h3M544 184.5h3M11 185.5h2M412 185.5h2M547 185.5h2M13 186.5h2M409 186.5h3M549 186.5h2M15 187.5h3M407 187.5h2M551 187.5h3M18 188.5h4M403 188.5h4M554 188.5h2M22 189.5h4M399 189.5h4M556 189.5h2M26 190.5h2M394 190.5h5M558 190.5h2M28 191.5h1M390 191.5h4M560 191.5h3M29 192.5h2M385 192.5h5M563 192.5h2M31 193.5h1M381 193.5h4M565 193.5h3M32 194.5h1M377 194.5h4M568 194.5h2M33 195.5h1M373 195.5h4M570 195.5h2M34 196.5h2M369 196.5h4M572 196.5h3M36 197.5h1M366 197.5h3M575 197.5h2M37 198.5h1M363 198.5h3M577 198.5h4M38 199.5h2M360 199.5h3M581 199.5h4M40 200.5h1M358 200.5h2M585 200.5h5M41 201.5h1M355 201.5h3M590 201.5h4M42 202.5h2M352 202.5h3M594 202.5h5M44 203.5h1M349 203.5h3M599 203.5h5M45 204.5h1M346 204.5h3M604 204.5h5M46 205.5h2M344 205.5h2M609 205.5h4M48 206.5h1M342 206.5h2M613 206.5h3M49 207.5h1M339 207.5h3M616 207.5h3M50 208.5h2M337 208.5h2M619 208.5h3M52 209.5h1M334 209.5h3M622 209.5h3M53 210.5h1M332 210.5h2M625 210.5h3M54 211.5h2M330 211.5h2M628 211.5h3M56 212.5h2M328 212.5h2M631 212.5h3M58 213.5h2M326 213.5h2M634 213.5h2M60 214.5h1M324 214.5h2M636 214.5h2M61 215.5h2M322 215.5h2M638 215.5h2M63 216.5h2M319 216.5h3M640 216.5h1M65 217.5h2M317 217.5h2M641 217.5h2M67 218.5h2M315 218.5h2M643 218.5h2M69 219.5h2M313 219.5h2M645 219.5h1M71 220.5h2M311 220.5h2M646 220.5h2M73 221.5h2M309 221.5h2M648 221.5h2M75 222.5h2M307 222.5h2M650 222.5h2M77 223.5h2M304 223.5h3M652 223.5h2M79 224.5h2M302 224.5h2M654 224.5h3M81 225.5h2M299 225.5h3M657 225.5h2M83 226.5h3M297 226.5h2M659 226.5h3M86 227.5h2M294 227.5h3M662 227.5h2M88 228.5h2M290 228.5h4M664 228.5h2M90 229.5h2M286 229.5h4M666 229.5h2M92 230.5h2M281 230.5h5M668 230.5h2M94 231.5h2M277 231.5h4M670 231.5h1M96 232.5h2M273 232.5h4M671 232.5h2M98 233.5h2M269 233.5h4M673 233.5h2M100 234.5h2M264 234.5h5M675 234.5h1M102 235.5h3M259 235.5h5M676 235.5h2M105 236.5h2M254 236.5h5M678 236.5h2M107 237.5h2M249 237.5h5M680 237.5h1M109 238.5h2M245 238.5h4M681 238.5h2M111 239.5h2M242 239.5h3M683 239.5h1M113 240.5h2M239 240.5h3M684 240.5h2M115 241.5h2M236 241.5h3M686 241.5h1M117 242.5h2M233 242.5h3M687 242.5h2M119 243.5h2M230 243.5h3M689 243.5h1M121 244.5h2M227 244.5h3M690 244.5h2M123 245.5h3M224 245.5h3M692 245.5h1M126 246.5h2M222 246.5h2M693 246.5h2M128 247.5h2M220 247.5h2M695 247.5h1M130 248.5h3M218 248.5h2M696 248.5h2M133 249.5h2M216 249.5h2M698 249.5h2M135 250.5h2M214 250.5h2M700 250.5h2M137 251.5h2M212 251.5h2M702 251.5h1M139 252.5h3M209 252.5h3M703 252.5h2M142 253.5h2M206 253.5h3M705 253.5h2M144 254.5h3M202 254.5h4M707 254.5h1M147 255.5h2M197 255.5h5M708 255.5h2M149 256.5h3M189 256.5h8M710 256.5h2M152 257.5h2M182 257.5h7M712 257.5h2M154 258.5h10M175 258.5h7M714 258.5h2M164 259.5h11M716 259.5h2M718 260.5h2M720 261.5h2M722 262.5h2M724 263.5h2M726 264.5h2M728 265.5h2M730 266.5h1M731 267.5h2M733 268.5h1M734 269.5h2M736 270.5h1M737 271.5h2M739 272.5h1M740 273.5h2M742 274.5h1M743 275.5h2M745 276.5h1M746 277.5h2M748 278.5h2M750 279.5h2M752 280.5h2M754 281.5h2M756 282.5h2M758 283.5h2M760 284.5h1M761 285.5h2M763 286.5h2M765 287.5h2M767 288.5h2M1170 288.5h2M769 289.5h2M1167 289.5h3M771 290.5h2M1163 290.5h4M773 291.5h2M1160 291.5h3M775 292.5h2M1156 292.5h4M777 293.5h2M1151 293.5h5M779 294.5h2M1147 294.5h4M781 295.5h2M1142 295.5h5M783 296.5h2M1137 296.5h5M785 297.5h2M1132 297.5h5M787 298.5h2M1126 298.5h6M789 299.5h4M1120 299.5h6M793 300.5h4M1112 300.5h8M797 301.5h4M1098 301.5h14M801 302.5h4M1077 302.5h21M805 303.5h2M1053 303.5h24M807 304.5h3M1039 304.5h14M810 305.5h2M1033 305.5h6M812 306.5h3M1028 306.5h5M815 307.5h2M1022 307.5h6M817 308.5h4M1016 308.5h6M821 309.5h4M1009 309.5h7M825 310.5h4M1003 310.5h6M829 311.5h4M998 311.5h5M833 312.5h4M995 312.5h3M837 313.5h3M992 313.5h3M840 314.5h3M988 314.5h4M843 315.5h3M985 315.5h3M846 316.5h3M982 316.5h3M849 317.5h3M978 317.5h4M852 318.5h4M972 318.5h6M856 319.5h4M966 319.5h6M860 320.5h4M960 320.5h6M864 321.5h4M953 321.5h7M868 322.5h6M946 322.5h7M874 323.5h6M940 323.5h6M880 324.5h6M934 324.5h6M886 325.5h4M928 325.5h6M890 326.5h4M918 326.5h10M894 327.5h24"/>
<g shape-rendering="crispEdges">
<rect x="3" y="79" width="1187" height="2" fill="#ff0000"/>
<rect x="3" y="185" width="1187" height="2" fill="#ff0000"/>
<rect x="3" y="276" width="1187" height="2" fill="#00d400"/>
<rect x="3" y="360" width="1187" height="2" fill="#4058e2"/>
</g>
<path shape-rendering="crispEdges" fill="none" stroke="#ff0000" stroke-width="1" d="M250 443.5h5M258 443.5h2M242 444.5h5M260 444.5h3M266 444.5h5M226 445.5h5M234 445.5h5M274 445.5h5M206 446.5h1M210 446.5h5M218 446.5h5M282 446.5h1M194 447.5h5M202 447.5h4M283 447.5h4M186 448.5h5M178 449.5h5M290 449.5h3M170 450.5h5M293 450.5h2M164 451.5h3M298 451.5h1M162 452.5h2M299 452.5h3M158 453.5h1M302 453.5h1M155 454.5h3M306 454.5h4M1042 454.5h5M1050 454.5h5M154 455.5h1M310 455.5h1M1034 455.5h5M1058 455.5h5M150 456.5h1M314 456.5h3M1027 456.5h4M1066 456.5h4M148 457.5h2M317 457.5h2M1019 457.5h4M1026 457.5h1M1070 457.5h1M146 458.5h2M1013 458.5h2M1018 458.5h1M1074 458.5h3M322 459.5h2M1010 459.5h3M1077 459.5h2M142 460.5h1M324 460.5h2M1003 460.5h4M140 461.5h2M326 461.5h1M1002 461.5h1M1082 461.5h2M138 462.5h2M330 462.5h1M995 462.5h4M1084 462.5h3M331 463.5h3M994 463.5h1M334 464.5h1M987 464.5h4M1090 464.5h2M134 465.5h1M338 465.5h1M986 465.5h1M1092 465.5h2M132 466.5h2M339 466.5h3M980 466.5h3M1094 466.5h1M131 467.5h1M342 467.5h1M978 467.5h2M1098 467.5h1M130 468.5h1M346 468.5h1M972 468.5h3M1099 468.5h3M347 469.5h2M970 469.5h2M1102 469.5h1M126 470.5h1M349 470.5h2M965 470.5h2M1106 470.5h1M125 471.5h1M962 471.5h3M1107 471.5h2M123 472.5h2M354 472.5h3M957 472.5h2M1109 472.5h2M122 473.5h1M357 473.5h2M954 473.5h3M1114 474.5h3M117 475.5h2M362 475.5h2M948 475.5h3M1117 475.5h2M115 476.5h2M364 476.5h2M946 476.5h2M114 477.5h1M366 477.5h1M942 477.5h1M1122 477.5h3M939 478.5h3M1125 478.5h2M109 479.5h2M370 479.5h1M938 479.5h1M107 480.5h2M371 480.5h2M934 480.5h1M1130 480.5h3M106 481.5h1M373 481.5h2M931 481.5h3M1133 481.5h2M930 482.5h1M1138 482.5h3M101 483.5h2M1141 483.5h2M99 484.5h2M378 484.5h2M925 484.5h2M1146 484.5h4M98 485.5h1M380 485.5h1M923 485.5h2M1150 485.5h1M1154 485.5h2M381 486.5h2M922 486.5h1M1156 486.5h3M1162 486.5h3M93 487.5h2M1165 487.5h2M1170 487.5h1M92 488.5h1M917 488.5h2M90 489.5h2M386 489.5h1M914 489.5h3M387 490.5h1M388 491.5h1M909 491.5h2M86 492.5h1M389 492.5h2M906 492.5h3M84 493.5h2M82 494.5h2M667 494.5h4M674 494.5h5M682 494.5h2M901 494.5h2M394 495.5h1M658 495.5h5M666 495.5h1M684 495.5h3M690 495.5h5M899 495.5h2M395 496.5h1M652 496.5h3M698 496.5h2M898 496.5h1M78 497.5h1M396 497.5h2M650 497.5h2M700 497.5h3M894 497.5h1M76 498.5h2M398 498.5h1M644 498.5h3M706 498.5h5M892 498.5h2M75 499.5h1M642 499.5h2M714 499.5h5M890 499.5h2M74 500.5h1M402 500.5h2M635 500.5h4M722 500.5h3M404 501.5h2M630 501.5h1M634 501.5h1M725 501.5h2M885 501.5h2M406 502.5h1M626 502.5h4M730 502.5h1M883 502.5h2M69 503.5h2M731 503.5h3M882 503.5h1M68 504.5h1M410 504.5h1M621 504.5h2M734 504.5h1M878 504.5h1M67 505.5h1M411 505.5h2M619 505.5h2M738 505.5h3M874 505.5h4M66 506.5h1M413 506.5h2M618 506.5h1M741 506.5h2M866 506.5h5M614 507.5h1M746 507.5h3M858 507.5h5M62 508.5h1M418 508.5h1M611 508.5h3M749 508.5h2M842 508.5h5M850 508.5h5M61 509.5h1M419 509.5h2M610 509.5h1M754 509.5h5M762 509.5h4M788 509.5h3M794 509.5h5M802 509.5h5M810 509.5h5M818 509.5h5M826 509.5h5M834 509.5h5M60 510.5h1M421 510.5h2M604 510.5h3M766 510.5h1M770 510.5h5M778 510.5h5M786 510.5h2M58 511.5h2M602 511.5h2M426 512.5h2M598 512.5h1M428 513.5h3M596 513.5h2M54 514.5h1M434 514.5h4M468 514.5h3M474 514.5h5M482 514.5h5M490 514.5h5M498 514.5h5M506 514.5h5M594 514.5h2M53 515.5h1M438 515.5h1M442 515.5h5M450 515.5h5M458 515.5h5M466 515.5h2M514 515.5h2M52 516.5h1M516 516.5h3M522 516.5h1M590 516.5h1M51 517.5h1M523 517.5h4M530 517.5h1M586 517.5h4M50 518.5h1M531 518.5h4M538 518.5h5M573 518.5h2M578 518.5h5M546 519.5h5M554 519.5h3M565 519.5h2M570 519.5h3M557 520.5h2M562 520.5h3M46 521.5h1M44 522.5h2M43 523.5h1M42 524.5h1M38 526.5h1M36 527.5h2M34 528.5h2M30 530.5h1M28 531.5h2M26 532.5h2M22 534.5h1M20 535.5h2M18 536.5h2M14 538.5h1M11 539.5h3M10 540.5h1M4 541.5h3M2 542.5h2"/>
<path shape-rendering="crispEdges" fill="none" stroke="#1e90ff" stroke-width="1" d="M986 582.5h2M130 583.5h4M203 583.5h5M984 583.5h2M988 583.5h1M126 584.5h4M134 584.5h4M201 584.5h2M208 584.5h16M232 584.5h8M981 584.5h3M989.5 584v2M114 585.5h12M138 585.5h2M200 585.5h1M224 585.5h8M240 585.5h4M976 585.5h5M112 586.5h2M140 586.5h1M198 586.5h2M244.5 586v2M971 586.5h5M990 586.5h1M1034 586.5h2M109 587.5h3M141 587.5h1M196 587.5h2M970 587.5h1M991 587.5h1M1010 587.5h12M1032 587.5h2M1036 587.5h1M107 588.5h2M142 588.5h1M195 588.5h1M245.5 588v2M969 588.5h1M992 588.5h1M1008 588.5h2M1022 588.5h4M1029 588.5h3M1037 588.5h1M105 589.5h2M143 589.5h1M193 589.5h2M923 589.5h11M968 589.5h1M993.5 589v2M1005 589.5h3M1026 589.5h3M1038 589.5h1M103 590.5h2M144 590.5h1M191 590.5h2M246 590.5h1M921 590.5h2M934 590.5h4M967.5 590v2M1002 590.5h3M1039 590.5h1M101 591.5h2M145 591.5h1M189 591.5h2M247.5 591v2M919 591.5h2M938 591.5h3M994 591.5h1M998 591.5h4M1040 591.5h1M96 592.5h5M146 592.5h1M179 592.5h10M917 592.5h2M941 592.5h2M966 592.5h1M995 592.5h3M1041 592.5h1M90 593.5h6M147 593.5h2M178 593.5h1M248 593.5h1M915 593.5h2M943 593.5h2M965 593.5h1M1042 593.5h1M86 594.5h4M149 594.5h3M176 594.5h2M249.5 594v2M913 594.5h2M945 594.5h2M964 594.5h1M1043 594.5h2M83 595.5h3M152 595.5h2M160 595.5h5M175 595.5h1M911 595.5h2M947 595.5h2M962 595.5h2M1045 595.5h2M82 596.5h1M154 596.5h6M165 596.5h3M174 596.5h1M250.5 596v2M909 596.5h2M949 596.5h3M960 596.5h2M1047 596.5h2M43 597.5h2M81 597.5h1M168 597.5h2M172 597.5h2M907 597.5h2M952 597.5h2M957 597.5h3M1049 597.5h2M42 598.5h1M45 598.5h2M80 598.5h1M170 598.5h2M251 598.5h2M275 598.5h1M867 598.5h2M905 598.5h2M954 598.5h3M1051.5 598v2M40 599.5h2M47 599.5h2M79.5 599v2M253 599.5h2M273 599.5h2M276 599.5h1M866 599.5h1M869 599.5h3M904 599.5h1M39 600.5h1M49 600.5h2M255 600.5h2M272 600.5h1M277 600.5h1M299 600.5h13M865 600.5h1M872 600.5h2M880 600.5h6M902 600.5h2M1052.5 600v2M38 601.5h1M51 601.5h2M78 601.5h1M257 601.5h2M270 601.5h2M278 601.5h1M298 601.5h1M312 601.5h4M864 601.5h1M874 601.5h6M886 601.5h4M900 601.5h2M36 602.5h2M53 602.5h3M77 602.5h1M259 602.5h5M268 602.5h2M279.5 602v2M297 602.5h1M316 602.5h1M863 602.5h1M890 602.5h10M1053.5 602v2M19 603.5h5M32 603.5h4M56 603.5h2M76 603.5h1M264 603.5h4M296 603.5h1M317 603.5h1M603 603.5h3M862 603.5h1M18 604.5h1M24 604.5h8M58 604.5h6M72 604.5h4M280 604.5h1M295.5 604v2M318 604.5h1M601 604.5h2M606 604.5h4M861 604.5h1M1054.5 604v2M17 605.5h1M64 605.5h8M281 605.5h1M319 605.5h1M599 605.5h2M610 605.5h10M860 605.5h1M16 606.5h1M282 606.5h1M294 606.5h1M320 606.5h1M597 606.5h2M620 606.5h1M859 606.5h1M1055.5 606v3M15 607.5h1M283 607.5h3M293 607.5h1M321 607.5h1M587 607.5h10M621 607.5h1M858 607.5h1M1139 607.5h2M14 608.5h1M286 608.5h4M292 608.5h1M322 608.5h1M586 608.5h1M622 608.5h2M659 608.5h5M857 608.5h1M1137 608.5h2M1141 608.5h2M1154 608.5h4M1170 608.5h2M13 609.5h1M290 609.5h2M323 609.5h2M584 609.5h2M624 609.5h1M657 609.5h2M664 609.5h4M856 609.5h1M1056.5 609v2M1096 609.5h4M1135 609.5h2M1143 609.5h2M1152 609.5h2M1158 609.5h4M1166 609.5h4M12 610.5h1M325 610.5h3M583 610.5h1M625 610.5h1M655 610.5h2M668.5 610v2M855 610.5h1M1090 610.5h6M1100.5 610v2M1133 610.5h2M1145 610.5h2M1149 610.5h3M1162 610.5h4M11 611.5h1M328 611.5h2M582 611.5h1M626 611.5h1M653 611.5h2M854 611.5h1M1057.5 611v2M1086 611.5h4M1130 611.5h3M1147 611.5h2M10 612.5h1M330 612.5h2M580 612.5h2M627 612.5h1M651 612.5h2M669 612.5h1M853 612.5h1M1082 612.5h4M1101.5 612v2M1128 612.5h2M9 613.5h1M332 613.5h2M435 613.5h3M579 613.5h1M628 613.5h1M649 613.5h2M670 613.5h1M779 613.5h5M852 613.5h1M1058.5 613v2M1080 613.5h2M1125 613.5h3M8 614.5h1M334 614.5h1M433 614.5h2M438 614.5h4M577 614.5h2M629 614.5h1M647 614.5h2M671.5 614v2M778 614.5h1M784 614.5h4M850 614.5h2M1077 614.5h3M1102 614.5h1M1115 614.5h10M7 615.5h1M335 615.5h1M431 615.5h2M442 615.5h10M575 615.5h2M630 615.5h1M645 615.5h2M776 615.5h2M788 615.5h2M846 615.5h4M1059.5 615v2M1072 615.5h5M1103.5 615v2M1114 615.5h1M6 616.5h1M336 616.5h2M429 616.5h2M452.5 616v2M573 616.5h2M631.5 616v2M643 616.5h2M672 616.5h1M775 616.5h1M790 616.5h1M843 616.5h3M1060 616.5h12M1113 616.5h1M5 617.5h1M338 617.5h1M426 617.5h3M570 617.5h3M641 617.5h2M673 617.5h1M774 617.5h1M791 617.5h1M841 617.5h2M1104 617.5h1M1112 617.5h1M4 618.5h1M339 618.5h5M422 618.5h4M453 618.5h1M566 618.5h4M632 618.5h1M640 618.5h1M674.5 618v2M755 618.5h3M772 618.5h2M792 618.5h2M802 618.5h2M839 618.5h2M1105.5 618v2M1111 618.5h1M3 619.5h1M344 619.5h5M419 619.5h3M454 619.5h1M483 619.5h1M562 619.5h4M633 619.5h1M638 619.5h2M754 619.5h1M758 619.5h4M768 619.5h4M794 619.5h1M798 619.5h4M804 619.5h1M837 619.5h2M1110 619.5h1M349 620.5h2M417 620.5h2M455.5 620v2M482 620.5h1M484 620.5h2M560 620.5h2M634 620.5h1M636 620.5h2M675 620.5h1M715 620.5h1M736 620.5h5M752 620.5h2M762 620.5h6M795 620.5h3M805 620.5h1M832 620.5h5M1106.5 620v2M1109 620.5h1M351 621.5h2M415 621.5h2M481 621.5h1M486 621.5h1M557 621.5h3M635 621.5h1M676 621.5h1M714 621.5h1M716 621.5h1M731 621.5h5M741 621.5h2M751 621.5h1M806 621.5h1M824 621.5h8M1108 621.5h1M353 622.5h2M402 622.5h6M413 622.5h2M456 622.5h1M480 622.5h1M487 622.5h1M552 622.5h5M677 622.5h1M713 622.5h1M717 622.5h1M730 622.5h1M743 622.5h2M750 622.5h1M807 622.5h1M819 622.5h5M1107 622.5h1M355 623.5h1M398 623.5h4M408 623.5h5M457 623.5h1M466 623.5h3M479 623.5h1M488 623.5h2M498 623.5h6M531 623.5h21M678 623.5h1M699 623.5h2M712 623.5h1M718 623.5h1M729 623.5h1M745 623.5h2M748 623.5h2M808 623.5h1M817 623.5h2M356 624.5h1M395 624.5h3M458.5 624v2M464 624.5h2M469 624.5h2M478 624.5h1M490 624.5h1M494 624.5h4M504 624.5h5M529 624.5h2M679 624.5h1M697 624.5h2M701 624.5h2M710 624.5h2M719.5 624v2M728 624.5h1M747 624.5h1M809 624.5h1M815 624.5h2M357.5 625v2M394 625.5h1M461 625.5h3M471 625.5h2M477 625.5h1M491 625.5h3M509 625.5h3M528 625.5h1M680 625.5h1M696 625.5h1M703 625.5h2M709 625.5h1M727 625.5h1M810 625.5h1M813 625.5h2M371 626.5h1M393 626.5h1M459 626.5h2M473 626.5h2M476 626.5h1M512 626.5h2M526 626.5h2M681 626.5h1M694 626.5h2M705 626.5h2M708 626.5h1M720 626.5h1M726 626.5h1M811 626.5h2M358 627.5h1M370 627.5h1M372 627.5h2M392 627.5h1M475 627.5h1M514 627.5h6M524 627.5h2M682 627.5h1M692 627.5h2M707 627.5h1M721 627.5h1M725 627.5h1M359 628.5h1M369 628.5h1M374 628.5h2M391.5 628v2M520 628.5h4M683 628.5h9M722 628.5h1M724 628.5h1M360 629.5h1M368 629.5h1M376 629.5h1M723 629.5h1M361.5 630v2M366 630.5h2M377 630.5h2M390 630.5h1M365 631.5h1M379 631.5h3M389 631.5h1M362 632.5h1M364 632.5h1M382 632.5h4M388 632.5h1M363 633.5h1M386 633.5h2"/>
<g shape-rendering="crispEdges" fill="#000">
<rect x="2" y="3" width="1" height="429"/>
<rect x="1190" y="3" width="1" height="429"/>
<rect x="2" y="3" width="1189" height="1"/>
<rect x="2" y="431" width="1189" height="1"/>
<rect x="2" y="433" width="1" height="116"/>
<rect x="1190" y="433" width="1" height="116"/>
<rect x="2" y="433" width="1189" height="1"/>
<rect x="2" y="548" width="1189" height="1"/>
<rect x="2" y="550" width="1" height="119"/>
<rect x="1190" y="550" width="1" height="119"/>
<rect x="2" y="550" width="1189" height="1"/>
<rect x="2" y="668" width="1189" height="1"/>
<rect x="1191" y="435" width="1" height="1"/>
<rect x="1191" y="547" width="1" height="1"/>
<rect x="1191" y="552" width="1" height="1"/>
<rect x="1191" y="667" width="1" height="1"/>
<rect x="1191" y="32" width="2" height="1"/>
<rect x="1191" y="65" width="2" height="1"/>
<rect x="1191" y="98" width="2" height="1"/>
<rect x="1191" y="131" width="2" height="1"/>
<rect x="1191" y="164" width="2" height="1"/>
<rect x="1191" y="197" width="2" height="1"/>
<rect x="1191" y="230" width="2" height="1"/>
<rect x="1191" y="263" width="2" height="1"/>
<rect x="1191" y="296" width="2" height="1"/>
<rect x="1191" y="329" width="2" height="1"/>
<rect x="1191" y="362" width="2" height="1"/>
<rect x="1191" y="395" width="2" height="1"/>
<rect x="1191" y="428" width="2" height="1"/>
<rect x="1191" y="487" width="1" height="1"/>
<rect x="3" y="669" width="1" height="3"/>
<rect x="67" y="669" width="1" height="3"/>
<rect x="131" y="669" width="1" height="3"/>
<rect x="195" y="669" width="1" height="3"/>
<rect x="259" y="669" width="1" height="3"/>
<rect x="323" y="669" width="1" height="3"/>
<rect x="387" y="669" width="1" height="3"/>
<rect x="451" y="669" width="1" height="3"/>
<rect x="515" y="669" width="1" height="3"/>
<rect x="579" y="669" width="1" height="3"/>
<rect x="643" y="669" width="1" height="3"/>
<rect x="707" y="669" width="1" height="3"/>
<rect x="771" y="669" width="1" height="3"/>
<rect x="835" y="669" width="1" height="3"/>
<rect x="899" y="669" width="1" height="3"/>
<rect x="963" y="669" width="1" height="3"/>
<rect x="1027" y="669" width="1" height="3"/>
<rect x="1091" y="669" width="1" height="3"/>
<rect x="1155" y="669" width="1" height="3"/>
<rect x="1190" y="79" width="1" height="2" fill="#ff0000"/>
<rect x="1190" y="185" width="1" height="2" fill="#ff0000"/>
<rect x="1190" y="276" width="1" height="2" fill="#00d400"/>
<rect x="1190" y="360" width="1" height="2" fill="#4058e2"/>
<rect x="1190" y="253" width="1" height="1" fill="#c0c0c0"/>
<rect x="1193" y="74" width="39" height="11" fill="#ff0000"/>
<rect x="1193" y="180" width="39" height="11" fill="#ff0000"/>
<rect x="1193" y="248" width="39" height="11" fill="#000"/>
<rect x="1193" y="271" width="39" height="11" fill="#00d400"/>
<rect x="1193" y="355" width="39" height="11" fill="#4058e2"/>
</g>
<path d="M6 10.5 L13.4 10.5 L9.7 14.2 Z" fill="#000"/>
<text x="17.5" y="15" font-family="Liberation Sans, sans-serif" text-rendering="geometricPrecision" font-size="10" fill="#000" stroke="#000" stroke-width="0.12" text-anchor="start" textLength="44" lengthAdjust="spacingAndGlyphs" xml:space="preserve">UKOil-,H4</text>
<text x="67.2" y="15" font-family="Liberation Sans, sans-serif" text-rendering="geometricPrecision" font-size="10" fill="#000" stroke="#000" stroke-width="0.12" text-anchor="start" textLength="140.5" lengthAdjust="spacingAndGlyphs" xml:space="preserve">108.214 108.727 108.197 108.577</text>
<text x="6.5" y="446" font-family="Liberation Sans, sans-serif" text-rendering="geometricPrecision" font-size="10" fill="#000" stroke="#000" stroke-width="0.12" text-anchor="start" textLength="128.6" lengthAdjust="spacingAndGlyphs" xml:space="preserve">MACD(12,26,9) 0.0091 0.0037</text>
<text x="6.4" y="563" font-family="Liberation Sans, sans-serif" text-rendering="geometricPrecision" font-size="10" fill="#000" stroke="#000" stroke-width="0.12" text-anchor="start" textLength="69" lengthAdjust="spacingAndGlyphs" xml:space="preserve">RSI(14) 51.3679</text>
<text x="1196.3" y="36" font-family="Liberation Sans, sans-serif" text-rendering="geometricPrecision" font-size="10" fill="#000" stroke="#000" stroke-width="0.12" text-anchor="start" textLength="32.6" lengthAdjust="spacingAndGlyphs" xml:space="preserve">123.205</text>
<text x="1196.3" y="69" font-family="Liberation Sans, sans-serif" text-rendering="geometricPrecision" font-size="10" fill="#000" stroke="#000" stroke-width="0.12" text-anchor="start" textLength="32.6" lengthAdjust="spacingAndGlyphs" xml:space="preserve">120.995</text>
<text x="1196.3" y="102" font-family="Liberation Sans, sans-serif" text-rendering="geometricPrecision" font-size="10" fill="#000" stroke="#000" stroke-width="0.12" text-anchor="start" textLength="32.6" lengthAdjust="spacingAndGlyphs" xml:space="preserve">118.850</text>
<text x="1196.3" y="135" font-family="Liberation Sans, sans-serif" text-rendering="geometricPrecision" font-size="10" fill="#000" stroke="#000" stroke-width="0.12" text-anchor="start" textLength="32.6" lengthAdjust="spacingAndGlyphs" xml:space="preserve">116.640</text>
<text x="1196.3" y="168" font-family="Liberation Sans, sans-serif" text-rendering="geometricPrecision" font-size="10" fill="#000" stroke="#000" stroke-width="0.12" text-anchor="start" textLength="32.6" lengthAdjust="spacingAndGlyphs" xml:space="preserve">114.495</text>
<text x="1196.3" y="201" font-family="Liberation Sans, sans-serif" text-rendering="geometricPrecision" font-size="10" fill="#000" stroke="#000" stroke-width="0.12" text-anchor="start" textLength="32.6" lengthAdjust="spacingAndGlyphs" xml:space="preserve">112.285</text>
<text x="1196.3" y="234" font-family="Liberation Sans, sans-serif" text-rendering="geometricPrecision" font-size="10" fill="#000" stroke="#000" stroke-width="0.12" text-anchor="start" textLength="32.6" lengthAdjust="spacingAndGlyphs" xml:space="preserve">110.140</text>
<text x="1196.3" y="267" font-family="Liberation Sans, sans-serif" text-rendering="geometricPrecision" font-size="10" fill="#000" stroke="#000" stroke-width="0.12" text-anchor="start" textLength="32.6" lengthAdjust="spacingAndGlyphs" xml:space="preserve">107.930</text>
<text x="1196.3" y="300" font-family="Liberation Sans, sans-serif" text-rendering="geometricPrecision" font-size="10" fill="#000" stroke="#000" stroke-width="0.12" text-anchor="start" textLength="32.6" lengthAdjust="spacingAndGlyphs" xml:space="preserve">105.785</text>
<text x="1196.3" y="333" font-family="Liberation Sans, sans-serif" text-rendering="geometricPrecision" font-size="10" fill="#000" stroke="#000" stroke-width="0.12" text-anchor="start" textLength="32.6" lengthAdjust="spacingAndGlyphs" xml:space="preserve">103.575</text>
<text x="1195.6" y="399" font-family="Liberation Sans, sans-serif" text-rendering="geometricPrecision" font-size="10" fill="#000" stroke="#000" stroke-width="0.12" text-anchor="start" textLength="27.8" lengthAdjust="spacingAndGlyphs" xml:space="preserve">99.220</text>
<text x="1195.6" y="432" font-family="Liberation Sans, sans-serif" text-rendering="geometricPrecision" font-size="10" fill="#000" stroke="#000" stroke-width="0.12" text-anchor="start" textLength="27.8" lengthAdjust="spacingAndGlyphs" xml:space="preserve">97.075</text>
<text x="1196.3" y="83" font-family="Liberation Sans, sans-serif" text-rendering="geometricPrecision" font-size="10" fill="#fff" stroke="#fff" stroke-width="0.12" text-anchor="start" textLength="32.6" lengthAdjust="spacingAndGlyphs" xml:space="preserve">120.000</text>
<text x="1196.3" y="189" font-family="Liberation Sans, sans-serif" text-rendering="geometricPrecision" font-size="10" fill="#fff" stroke="#fff" stroke-width="0.12" text-anchor="start" textLength="32.6" lengthAdjust="spacingAndGlyphs" xml:space="preserve">113.000</text>
<text x="1196.3" y="257" font-family="Liberation Sans, sans-serif" text-rendering="geometricPrecision" font-size="10" fill="#fff" stroke="#fff" stroke-width="0.12" text-anchor="start" textLength="32.6" lengthAdjust="spacingAndGlyphs" xml:space="preserve">108.577</text>
<text x="1196.3" y="280" font-family="Liberation Sans, sans-serif" text-rendering="geometricPrecision" font-size="10" fill="#fff" stroke="#fff" stroke-width="0.12" text-anchor="start" textLength="32.6" lengthAdjust="spacingAndGlyphs" xml:space="preserve">107.000</text>
<text x="1196.3" y="364" font-family="Liberation Sans, sans-serif" text-rendering="geometricPrecision" font-size="10" fill="#fff" stroke="#fff" stroke-width="0.12" text-anchor="start" textLength="32.6" lengthAdjust="spacingAndGlyphs" xml:space="preserve">101.500</text>
<text x="1193.8" y="444" font-family="Liberation Sans, sans-serif" text-rendering="geometricPrecision" font-size="10" fill="#000" stroke="#000" stroke-width="0.12" text-anchor="start" textLength="28.3" lengthAdjust="spacingAndGlyphs" xml:space="preserve">3.7459</text>
<text x="1193.5" y="491" font-family="Liberation Sans, sans-serif" text-rendering="geometricPrecision" font-size="10" fill="#000" stroke="#000" stroke-width="0.12" text-anchor="start" textLength="18" lengthAdjust="spacingAndGlyphs" xml:space="preserve">0.00</text>
<text x="1194" y="545" font-family="Liberation Sans, sans-serif" text-rendering="geometricPrecision" font-size="10" fill="#000" stroke="#000" stroke-width="0.12" text-anchor="start" textLength="31" lengthAdjust="spacingAndGlyphs" xml:space="preserve">-4.3051</text>
<text x="1194" y="561" font-family="Liberation Sans, sans-serif" text-rendering="geometricPrecision" font-size="10" fill="#000" stroke="#000" stroke-width="0.12" text-anchor="start" textLength="15.5" lengthAdjust="spacingAndGlyphs" xml:space="preserve">100</text>
<text x="1192.4" y="590" font-family="Liberation Sans, sans-serif" text-rendering="geometricPrecision" font-size="10" fill="#000" stroke="#000" stroke-width="0.12" text-anchor="start" textLength="10.5" lengthAdjust="spacingAndGlyphs" xml:space="preserve">70</text>
<text x="1192.4" y="637" font-family="Liberation Sans, sans-serif" text-rendering="geometricPrecision" font-size="10" fill="#000" stroke="#000" stroke-width="0.12" text-anchor="start" textLength="10.5" lengthAdjust="spacingAndGlyphs" xml:space="preserve">30</text>
<text x="1194" y="665" font-family="Liberation Sans, sans-serif" text-rendering="geometricPrecision" font-size="10" fill="#000" stroke="#000" stroke-width="0.12" text-anchor="start" textLength="5.2" lengthAdjust="spacingAndGlyphs" xml:space="preserve">0</text>
<text x="2.2" y="681" font-family="Liberation Sans, sans-serif" text-rendering="geometricPrecision" font-size="10" fill="#000" stroke="#000" stroke-width="0.12" text-anchor="start" textLength="51.5" lengthAdjust="spacingAndGlyphs" xml:space="preserve">17 Mar 2022</text>
<text x="66.2" y="681" font-family="Liberation Sans, sans-serif" text-rendering="geometricPrecision" font-size="10" fill="#000" stroke="#000" stroke-width="0.12" text-anchor="start" textLength="54.3" lengthAdjust="spacingAndGlyphs" xml:space="preserve">18 Mar 12:00</text>
<text x="130.2" y="681" font-family="Liberation Sans, sans-serif" text-rendering="geometricPrecision" font-size="10" fill="#000" stroke="#000" stroke-width="0.12" text-anchor="start" textLength="54.3" lengthAdjust="spacingAndGlyphs" xml:space="preserve">22 Mar 00:00</text>
<text x="194.2" y="681" font-family="Liberation Sans, sans-serif" text-rendering="geometricPrecision" font-size="10" fill="#000" stroke="#000" stroke-width="0.12" text-anchor="start" textLength="54.3" lengthAdjust="spacingAndGlyphs" xml:space="preserve">23 Mar 08:00</text>
<text x="258.2" y="681" font-family="Liberation Sans, sans-serif" text-rendering="geometricPrecision" font-size="10" fill="#000" stroke="#000" stroke-width="0.12" text-anchor="start" textLength="54.3" lengthAdjust="spacingAndGlyphs" xml:space="preserve">24 Mar 16:00</text>
<text x="322.2" y="681" font-family="Liberation Sans, sans-serif" text-rendering="geometricPrecision" font-size="10" fill="#000" stroke="#000" stroke-width="0.12" text-anchor="start" textLength="54.3" lengthAdjust="spacingAndGlyphs" xml:space="preserve">28 Mar 00:00</text>
<text x="386.2" y="681" font-family="Liberation Sans, sans-serif" text-rendering="geometricPrecision" font-size="10" fill="#000" stroke="#000" stroke-width="0.12" text-anchor="start" textLength="54.3" lengthAdjust="spacingAndGlyphs" xml:space="preserve">29 Mar 12:00</text>
<text x="450.2" y="681" font-family="Liberation Sans, sans-serif" text-rendering="geometricPrecision" font-size="10" fill="#000" stroke="#000" stroke-width="0.12" text-anchor="start" textLength="54.3" lengthAdjust="spacingAndGlyphs" xml:space="preserve">30 Mar 20:00</text>
<text x="514.2" y="681" font-family="Liberation Sans, sans-serif" text-rendering="geometricPrecision" font-size="10" fill="#000" stroke="#000" stroke-width="0.12" text-anchor="start" textLength="48.7" lengthAdjust="spacingAndGlyphs" xml:space="preserve">1 Apr 04:00</text>
<text x="578.2" y="681" font-family="Liberation Sans, sans-serif" text-rendering="geometricPrecision" font-size="10" fill="#000" stroke="#000" stroke-width="0.12" text-anchor="start" textLength="48.7" lengthAdjust="spacingAndGlyphs" xml:space="preserve">4 Apr 12:00</text>
<text x="642.2" y="681" font-family="Liberation Sans, sans-serif" text-rendering="geometricPrecision" font-size="10" fill="#000" stroke="#000" stroke-width="0.12" text-anchor="start" textLength="48.7" lengthAdjust="spacingAndGlyphs" xml:space="preserve">5 Apr 20:00</text>
<text x="706.2" y="681" font-family="Liberation Sans, sans-serif" text-rendering="geometricPrecision" font-size="10" fill="#000" stroke="#000" stroke-width="0.12" text-anchor="start" textLength="48.7" lengthAdjust="spacingAndGlyphs" xml:space="preserve">7 Apr 04:00</text>
<text x="770.2" y="681" font-family="Liberation Sans, sans-serif" text-rendering="geometricPrecision" font-size="10" fill="#000" stroke="#000" stroke-width="0.12" text-anchor="start" textLength="48.7" lengthAdjust="spacingAndGlyphs" xml:space="preserve">8 Apr 12:00</text>
<text x="834.2" y="681" font-family="Liberation Sans, sans-serif" text-rendering="geometricPrecision" font-size="10" fill="#000" stroke="#000" stroke-width="0.12" text-anchor="start" textLength="54.3" lengthAdjust="spacingAndGlyphs" xml:space="preserve">11 Apr 20:00</text>
<text x="898.2" y="681" font-family="Liberation Sans, sans-serif" text-rendering="geometricPrecision" font-size="10" fill="#000" stroke="#000" stroke-width="0.12" text-anchor="start" textLength="54.3" lengthAdjust="spacingAndGlyphs" xml:space="preserve">13 Apr 04:00</text>
<text x="962.2" y="681" font-family="Liberation Sans, sans-serif" text-rendering="geometricPrecision" font-size="10" fill="#000" stroke="#000" stroke-width="0.12" text-anchor="start" textLength="54.3" lengthAdjust="spacingAndGlyphs" xml:space="preserve">14 Apr 12:00</text>
<text x="1026.2" y="681" font-family="Liberation Sans, sans-serif" text-rendering="geometricPrecision" font-size="10" fill="#000" stroke="#000" stroke-width="0.12" text-anchor="start" textLength="54.3" lengthAdjust="spacingAndGlyphs" xml:space="preserve">18 Apr 20:00</text>
<text x="1090.2" y="681" font-family="Liberation Sans, sans-serif" text-rendering="geometricPrecision" font-size="10" fill="#000" stroke="#000" stroke-width="0.12" text-anchor="start" textLength="54.3" lengthAdjust="spacingAndGlyphs" xml:space="preserve">20 Apr 04:00</text>
<text x="1154.2" y="681" font-family="Liberation Sans, sans-serif" text-rendering="geometricPrecision" font-size="10" fill="#000" stroke="#000" stroke-width="0.12" text-anchor="start" textLength="54.3" lengthAdjust="spacingAndGlyphs" xml:space="preserve">21 Apr 12:00</text>
<text x="640" y="149.7" font-family="'Liberation Sans', 'Noto Sans CJK SC', sans-serif" text-rendering="geometricPrecision" font-size="35" fill="#ff0000" text-anchor="start" textLength="175" lengthAdjust="spacingAndGlyphs">多空转折点</text>
<text x="811" y="149.2" font-family="'Liberation Sans', sans-serif" text-rendering="geometricPrecision" font-size="36" fill="#ff0000" text-anchor="start" textLength="58.6" lengthAdjust="spacingAndGlyphs">107</text>
</svg></body></html>
